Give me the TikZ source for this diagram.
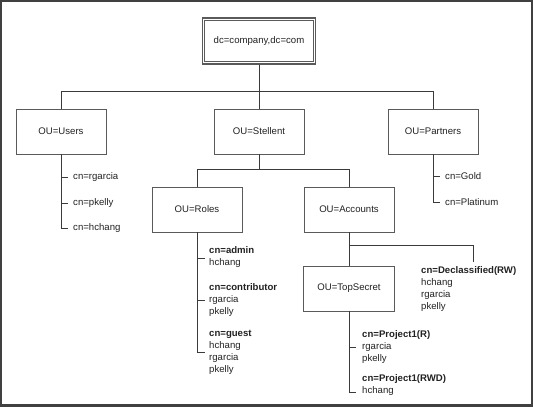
\documentclass[tikz,border=0pt]{standalone}
\usepackage{fontspec}
\setmainfont{Liberation Sans}
\definecolor{ln}{HTML}{3A3A3A}
\definecolor{boxc}{HTML}{5A5A5A}
\definecolor{txt}{HTML}{222222}
\definecolor{frame}{HTML}{404040}
\newcommand{\fs}{\fontsize{9.6}{12}\selectfont}
\tikzset{
  ou/.style={draw=boxc, line width=0.9pt, minimum width=90pt, minimum height=45pt, inner sep=0pt, font=\fs, text=txt},
  rootbox/.style={draw=boxc, line width=1.3pt, minimum width=113pt, minimum height=46pt, inner sep=0pt, font=\fs, text=txt},
  lbl/.style={anchor=west, inner sep=0pt, align=left, font=\fs, text=txt},
  conn/.style={draw=ln, line width=0.9pt},
}
\begin{document}
\begin{tikzpicture}[x=1pt,y=-1pt]
\useasboundingbox (0,0) rectangle (533,407);
\fill[frame] (0,0) rectangle (533,407);
\fill[white] (2,1.5) rectangle (530.5,404);

% boxes
\node[rootbox] (root) at (259,41) {dc=company,dc=com};
\draw[draw=boxc, line width=0.9pt] ([shift={(3,3)}]root.north west) rectangle ([shift={(-3,-3)}]root.south east);
\node[ou] (users) at (61,131.5) {OU=Users};
\node[ou] (stellent) at (259,131.5) {OU=Stellent};
\node[ou] (partners) at (433,131.5) {OU=Partners};
\node[ou] (roles) at (197,209.5) {OU=Roles};
\node[ou] (accounts) at (349,209.5) {OU=Accounts};
\node[ou, minimum width=91pt] (ts) at (349,288.5) {OU=TopSecret};

% labels
\node[lbl] (u1) at (73,177) {cn=rgarcia};
\node[lbl] (u2) at (73,203) {cn=pkelly};
\node[lbl] (u3) at (73,228) {cn=hchang};
\node[lbl] (p1) at (445,176) {cn=Gold};
\node[lbl] (p2) at (445,202) {cn=Platinum};
\node[lbl] (r1) at (209,257) {\textbf{cn=admin}\\hchang};
\node[lbl] (r2) at (209,300) {\textbf{cn=contributor}\\rgarcia\\pkelly};
\node[lbl] (r3) at (209,352) {\textbf{cn=guest}\\hchang\\rgarcia\\pkelly};
\node[lbl] (d1) at (421,289.5) {\textbf{cn=Declassified(RW)}\\hchang\\rgarcia\\pkelly};
\node[lbl] (s1) at (362,347) {\textbf{cn=Project1(R)}\\rgarcia\\pkelly};
\node[lbl] (s2) at (362,385) {\textbf{cn=Project1(RWD)}\\hchang};
\coordinate (dtop) at (473,262);

% connectors
\draw[conn] (root.south) -- (stellent.north);
\draw[conn] (users.north) -- ++(0,-17) -| (partners.north);
\draw[conn] (stellent.south) -- ++(0,16);
\draw[conn] (roles.north) -- ++(0,-17) -| (accounts.north);
\draw[conn] (users.south) -- (users.south |- u3.west) -- ++(7,0);
\draw[conn] (users.south |- u1.west) -- ++(7,0);
\draw[conn] (users.south |- u2.west) -- ++(7,0);
\draw[conn] (partners.south) -- (partners.south |- p2.west) -- ++(7,0);
\draw[conn] (partners.south |- p1.west) -- ++(7,0);
\draw[conn] (roles.south) -- (roles.south |- r3.west) -- ++(8,0);
\draw[conn] (roles.south |- r1.west) ++(0,1) -- ++(8,0);
\draw[conn] (roles.south |- r2.west) -- ++(8,0);
\draw[conn] (accounts.south) -- (ts.north);
\draw[conn] (accounts.south) ++(0,13) -| (dtop);
\draw[conn] (ts.south) -- ++(0,81) -- ++(7,0);
\draw[conn] (ts.south |- s1.west) -- ++(7,0);
\end{tikzpicture}
\end{document}
